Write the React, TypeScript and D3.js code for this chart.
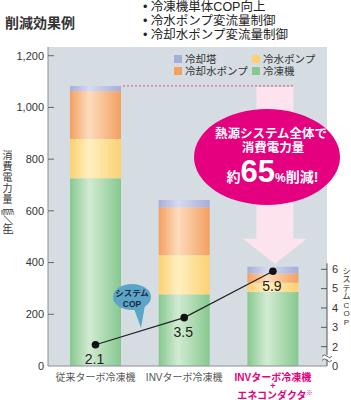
import React, { useEffect, useRef } from 'react';
import * as d3 from 'd3';

// data
const categories = ['従来ターボ冷凍機', 'INVターボ冷凍機', 'INVターボ冷凍機+エネコンダクタ'];
const chiller = [726, 277, 286];
const chilledWaterPump = [152, 152, 36];
const coolingWaterPump = [185, 185, 36];
const coolingTower = [20, 28, 26];
const copValues = [2.1, 3.5, 5.9];
const yTicks = [0, 200, 400, 600, 800, 1000, 1200];
const copTicks = [2, 3, 4, 5, 6];
const seriesKeys = ['冷凍機', '冷水ポンプ', '冷却水ポンプ', '冷却塔'];
const legendOrder = ['冷却塔', '冷水ポンプ', '冷却水ポンプ', '冷凍機'];
const bullets = ['冷凍機単体COP向上', '冷水ポンプ変流量制御', '冷却水ポンプ変流量制御'];

const colors = {
  '冷凍機': ['#86c88f', '#d2ebd2'],
  '冷水ポンプ': ['#fbd173', '#feefc0'],
  '冷却水ポンプ': ['#f3a060', '#fcdcbc'],
  '冷却塔': ['#a5addb', '#d6daf1'],
};

const FONT = '"Liberation Sans", "Noto Sans CJK JP", sans-serif';
const PINK = '#e4007f';

const Chart = () => {
  const ref = useRef();

  useEffect(() => {
    const svg = d3.select(ref.current);
    svg.selectAll('*').remove();
    svg.attr('width', 351).attr('height', 400).style('font-family', FONT);

    const left = 48, right = 327, top = 47, bottom = 366;

    const x = d3
      .scaleBand()
      .domain(categories)
      .range([left, 320.4])
      .paddingInner(0.425)
      .paddingOuter(0.248);
    const y = d3.scaleLinear().domain([0, 1200]).range([bottom, 55.7]);
    const yc = d3.scaleLinear().domain([1, 6]).range([bottom, 269.3]);
    const bw = x.bandwidth();
    const cx = c => x(c) + bw / 2;

    const table = categories.map((c, i) => ({
      cat: c,
      '冷凍機': chiller[i],
      '冷水ポンプ': chilledWaterPump[i],
      '冷却水ポンプ': coolingWaterPump[i],
      '冷却塔': coolingTower[i],
    }));
    const totals = table.map(d => seriesKeys.reduce((s, k) => s + d[k], 0));
    const stacked = d3.stack().keys(seriesKeys)(table);

    // gradients
    const defs = svg.append('defs');
    seriesKeys.forEach((k, i) => {
      const g = defs.append('linearGradient').attr('id', 'g' + i).attr('x1', 0).attr('x2', 1).attr('y1', 0).attr('y2', 0);
      g.append('stop').attr('offset', '0%').attr('stop-color', colors[k][0]);
      g.append('stop').attr('offset', '38%').attr('stop-color', colors[k][1]);
      g.append('stop').attr('offset', '100%').attr('stop-color', colors[k][0]);
    });

    // titles
    svg.append('text').attr('x', 5).attr('y', 28).attr('font-size', 14).attr('font-weight', 600)
      .attr('fill', '#333').text('削減効果例');
    bullets.forEach((b, i) => {
      svg.append('text').attr('x', 143).attr('y', 10.5 + i * 14).attr('font-size', 12.5).attr('fill', '#222')
        .text('• ' + b);
    });

    // plot panel
    svg.append('rect').attr('x', left).attr('y', top).attr('width', right - left).attr('height', bottom - top)
      .attr('fill', '#d5dde3');

    // legend
    legendOrder.forEach((k, i) => {
      const lx = i % 2 === 0 ? 174 : 252;
      const ly = i < 2 ? 55 : 67;
      svg.append('rect').attr('x', lx).attr('y', ly).attr('width', 8).attr('height', 8).attr('fill', colors[k][0]);
      svg.append('text').attr('x', lx + 11).attr('y', ly + 8).attr('font-size', 10.5).attr('fill', '#333').text(k);
    });

    // bars
    stacked.forEach((layer, i) => {
      svg.append('g').selectAll('rect').data(layer).join('rect')
        .attr('x', d => x(d.data.cat))
        .attr('y', d => y(d[1]))
        .attr('width', bw)
        .attr('height', d => y(d[0]) - y(d[1]))
        .attr('fill', `url(#g${i})`);
    });

    // dashed reference line and arrow
    const refY = y(totals[0]);
    const ax = cx(categories[2]) + 2;
    const tipY = y(totals[2]) - 3;
    svg.append('path')
      .attr('d', `M${ax - 18.5},${refY + 1}H${ax + 18.5}V${tipY - 25}H${ax + 32}L${ax},${tipY}L${ax - 32},${tipY - 25}H${ax - 18.5}Z`)
      .attr('fill', '#fce3ee');
    svg.append('line').attr('x1', x(categories[0]) + bw + 2).attr('x2', ax + 19)
      .attr('y1', refY).attr('y2', refY)
      .attr('stroke', '#e8609c').attr('stroke-width', 1.3).attr('stroke-dasharray', '2,2');

    // callout ellipse
    svg.append('ellipse').attr('cx', 267).attr('cy', 157).attr('rx', 73).attr('ry', 48).attr('fill', PINK);
    svg.append('text').attr('x', 271).attr('y', 137.5).attr('text-anchor', 'middle').attr('font-size', 12.5)
      .attr('font-weight', 'bold').attr('fill', '#fff').text('熱源システム全体で');
    svg.append('text').attr('x', 273).attr('y', 151.5).attr('text-anchor', 'middle').attr('font-size', 12.5)
      .attr('font-weight', 'bold').attr('fill', '#fff').text('消費電力量');
    const big = svg.append('text').attr('x', 272.5).attr('y', 182).attr('text-anchor', 'middle')
      .attr('font-weight', 'bold').attr('fill', '#fff');
    big.append('tspan').attr('font-size', 14).text('約');
    big.append('tspan').attr('font-size', 31).attr('font-family', '"Liberation Sans", sans-serif').text('65');
    big.append('tspan').attr('font-size', 12).text('%');
    big.append('tspan').attr('font-size', 14).text('削減!');

    // axes
    svg.append('line').attr('x1', left).attr('x2', left).attr('y1', top).attr('y2', bottom).attr('stroke', '#8a8f94');
    svg.append('line').attr('x1', left).attr('x2', right).attr('y1', bottom).attr('y2', bottom).attr('stroke', '#8a8f94');
    yTicks.forEach(t => {
      if (t > 0) {
        svg.append('line').attr('x1', left).attr('x2', left + 6).attr('y1', y(t)).attr('y2', y(t)).attr('stroke', '#666');
      }
      svg.append('text').attr('x', 44).attr('y', y(t)).attr('dy', '0.35em').attr('text-anchor', 'end')
        .attr('font-size', 11).attr('fill', '#333').text(d3.format(',')(t));
    });

    // right COP axis
    svg.append('line').attr('x1', right).attr('x2', right).attr('y1', yc(6) - 6).attr('y2', bottom).attr('stroke', '#555');
    copTicks.forEach(t => {
      svg.append('line').attr('x1', right - 6).attr('x2', right).attr('y1', yc(t)).attr('y2', yc(t)).attr('stroke', '#555');
      svg.append('text').attr('x', 332).attr('y', yc(t)).attr('dy', '0.35em').attr('font-size', 11).attr('fill', '#333').text(t);
    });
    svg.append('text').attr('x', 332).attr('y', yc(1)).attr('dy', '0.35em').attr('font-size', 11).attr('fill', '#333').text(0);
    const by = (yc(2) + yc(1)) / 2 + 1;
    svg.append('rect').attr('x', right - 4).attr('y', by - 2).attr('width', 8).attr('height', 4).attr('fill', '#fff');
    [-2, 2].forEach(o => {
      svg.append('path').attr('d', `M${right - 5},${by + o + 1}q2.5,-3 5,0t5,0`).attr('fill', 'none')
        .attr('stroke', '#555').attr('stroke-width', 0.9);
    });

    // COP line
    const line = d3.line().x((d, i) => cx(categories[i])).y(d => yc(d));
    svg.append('path').datum(copValues).attr('d', line).attr('fill', 'none').attr('stroke', '#222').attr('stroke-width', 1.2);
    svg.append('g').selectAll('circle').data(copValues).join('circle')
      .attr('cx', (d, i) => cx(categories[i])).attr('cy', d => yc(d)).attr('r', 3.8).attr('fill', '#111');
    svg.append('g').selectAll('text').data(copValues).join('text')
      .attr('x', (d, i) => cx(categories[i]) - 1).attr('y', d => yc(d) + 19.5)
      .attr('text-anchor', 'middle').attr('font-size', 14).attr('fill', '#222').text(d => d.toFixed(1));

    // COP speech bubble
    svg.append('path').attr('d', 'M133,306L141,328L145,305Z').attr('fill', '#5ba6c8');
    svg.append('ellipse').attr('cx', 132).attr('cy', 297).attr('rx', 19).attr('ry', 13).attr('fill', '#5ba6c8');
    svg.append('text').attr('x', 132).attr('y', 295.5).attr('text-anchor', 'middle').attr('font-size', 8.5)
      .attr('font-weight', 'bold').attr('fill', '#1d2a3a').text('システム');
    svg.append('text').attr('x', 132).attr('y', 306.5).attr('text-anchor', 'middle').attr('font-size', 8.5)
      .attr('font-weight', 'bold').attr('fill', '#1d2a3a').text('COP');

    // x labels
    categories.forEach((c, i) => {
      const parts = c.split('+');
      const col = i === 2 ? PINK : '#555';
      svg.append('text').attr('x', cx(c)).attr('y', 380.5).attr('text-anchor', 'middle').attr('font-size', 10)
        .attr('font-weight', i === 2 ? 600 : 400).attr('fill', col).text(parts[0]);
      if (parts[1]) {
        svg.append('text').attr('x', cx(c)).attr('y', 389).attr('text-anchor', 'middle').attr('font-size', 9)
          .attr('font-weight', 600).attr('fill', col).text('+');
        const t = svg.append('text').attr('x', cx(c) + 2).attr('y', 398.5).attr('text-anchor', 'middle')
          .attr('font-size', 10).attr('font-weight', 600).attr('fill', col);
        t.append('tspan').text(parts[1]);
        t.append('tspan').attr('font-size', 6).attr('dy', -4).text('※');
      }
    });

    // vertical y title
    const yTitle = [['消', 155], ['費', 166], ['電', 177.5], ['力', 188.5], ['量', 199.5], ['［', 207, 1], ['MWh', 212.5], ['／', 220, 1], ['年', 228], ['］', 236, 1]];
    yTitle.forEach(([ch, cy, rot]) => {
      const t = svg.append('text').attr('x', 7.5).attr('y', cy).attr('text-anchor', 'middle')
        .attr('dominant-baseline', 'central').attr('font-size', 10).attr('fill', '#333').text(ch);
      if (ch === 'MWh') t.attr('font-size', 8).attr('textLength', 13).attr('lengthAdjust', 'spacingAndGlyphs');
      if (rot) t.attr('transform', `rotate(90,7.5,${cy})`);
    });

    // vertical COP title
    'システムCOP'.split('').forEach((ch, i) => {
      svg.append('text').attr('x', 346.5).attr('y', 271 + i * 8.5).attr('text-anchor', 'middle')
        .attr('dominant-baseline', 'central').attr('font-size', 8).attr('fill', '#333').text(ch);
    });
  }, []);

  return <svg ref={ref} style={{ position: 'absolute', left: 0, top: 0, display: 'block' }}></svg>;
};

export default function App() {
  return <Chart />;
}
